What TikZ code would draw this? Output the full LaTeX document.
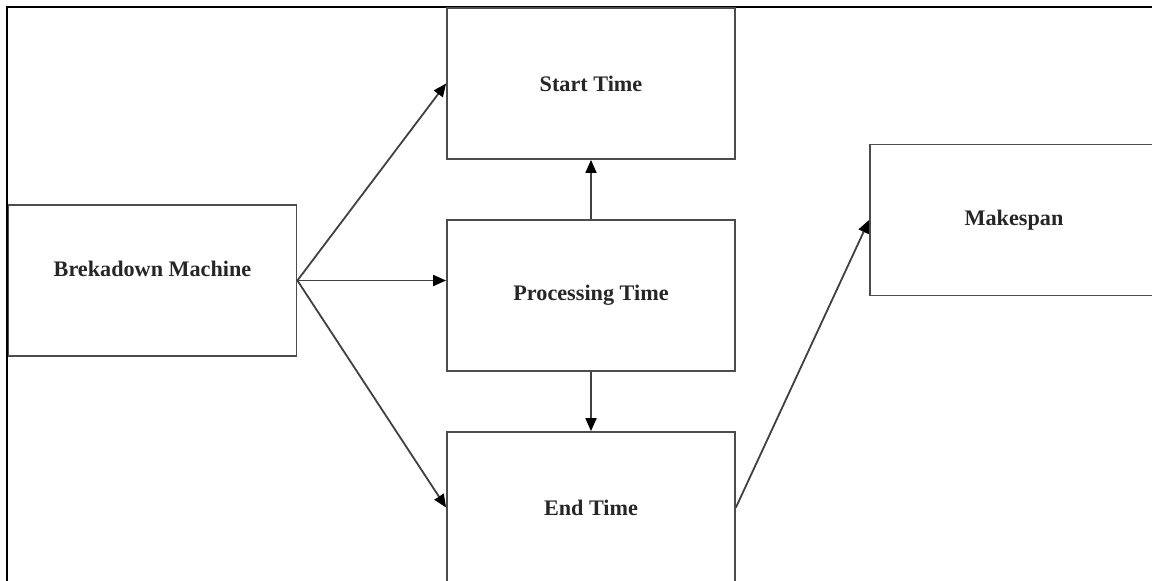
\documentclass[tikz,border=0pt]{standalone}
\usepackage{fontspec}
\setmainfont{Liberation Serif}
\usetikzlibrary{arrows.meta}
\begin{document}
\begin{tikzpicture}[x=0.5pt,y=-0.5pt,
  box/.style={draw=black!70, line width=0.9pt, rectangle, minimum width=144pt, minimum height=75.5pt, inner sep=0pt, font=\fontsize{11.1pt}{13pt}\selectfont\bfseries, text=black!85},
  conn/.style={draw=black!75, line width=0.9pt, -{Triangle[length=6.5pt,width=5.5pt,color=black]}}]
\useasboundingbox (0,0) rectangle (1152,580);
\begin{scope}
\clip (0,0) rectangle (1152,580);
\draw[black, line width=0.9pt] (7,620) -- (7,7) -- (1200,7);
\node[box] (start) at (591,83.5) {Start Time};
\node[box] (proc) at (591,295.5) {\raisebox{-2pt}{Processing Time}};
\node[box] (end) at (591,507.5) {End Time};
\node[box, label={[font=\fontsize{11.1pt}{13pt}\selectfont\bfseries, text=black!85, yshift=6pt]center:Brekadown Machine}] (brk) at (152.5,280.5) {};
\node[box] (mk) at (1014,220) {Makespan};
\draw[conn] (brk.east) -- (start.west);
\draw[conn] (brk.east) -- (brk.east -| proc.west);
\draw[conn] (brk.east) -- (end.west);
\draw[conn] (proc.north) -- (start.south);
\draw[conn] (proc.south) -- (end.north);
\draw[conn] (end.east) -- (mk.west);
\end{scope}
\end{tikzpicture}
\end{document}
